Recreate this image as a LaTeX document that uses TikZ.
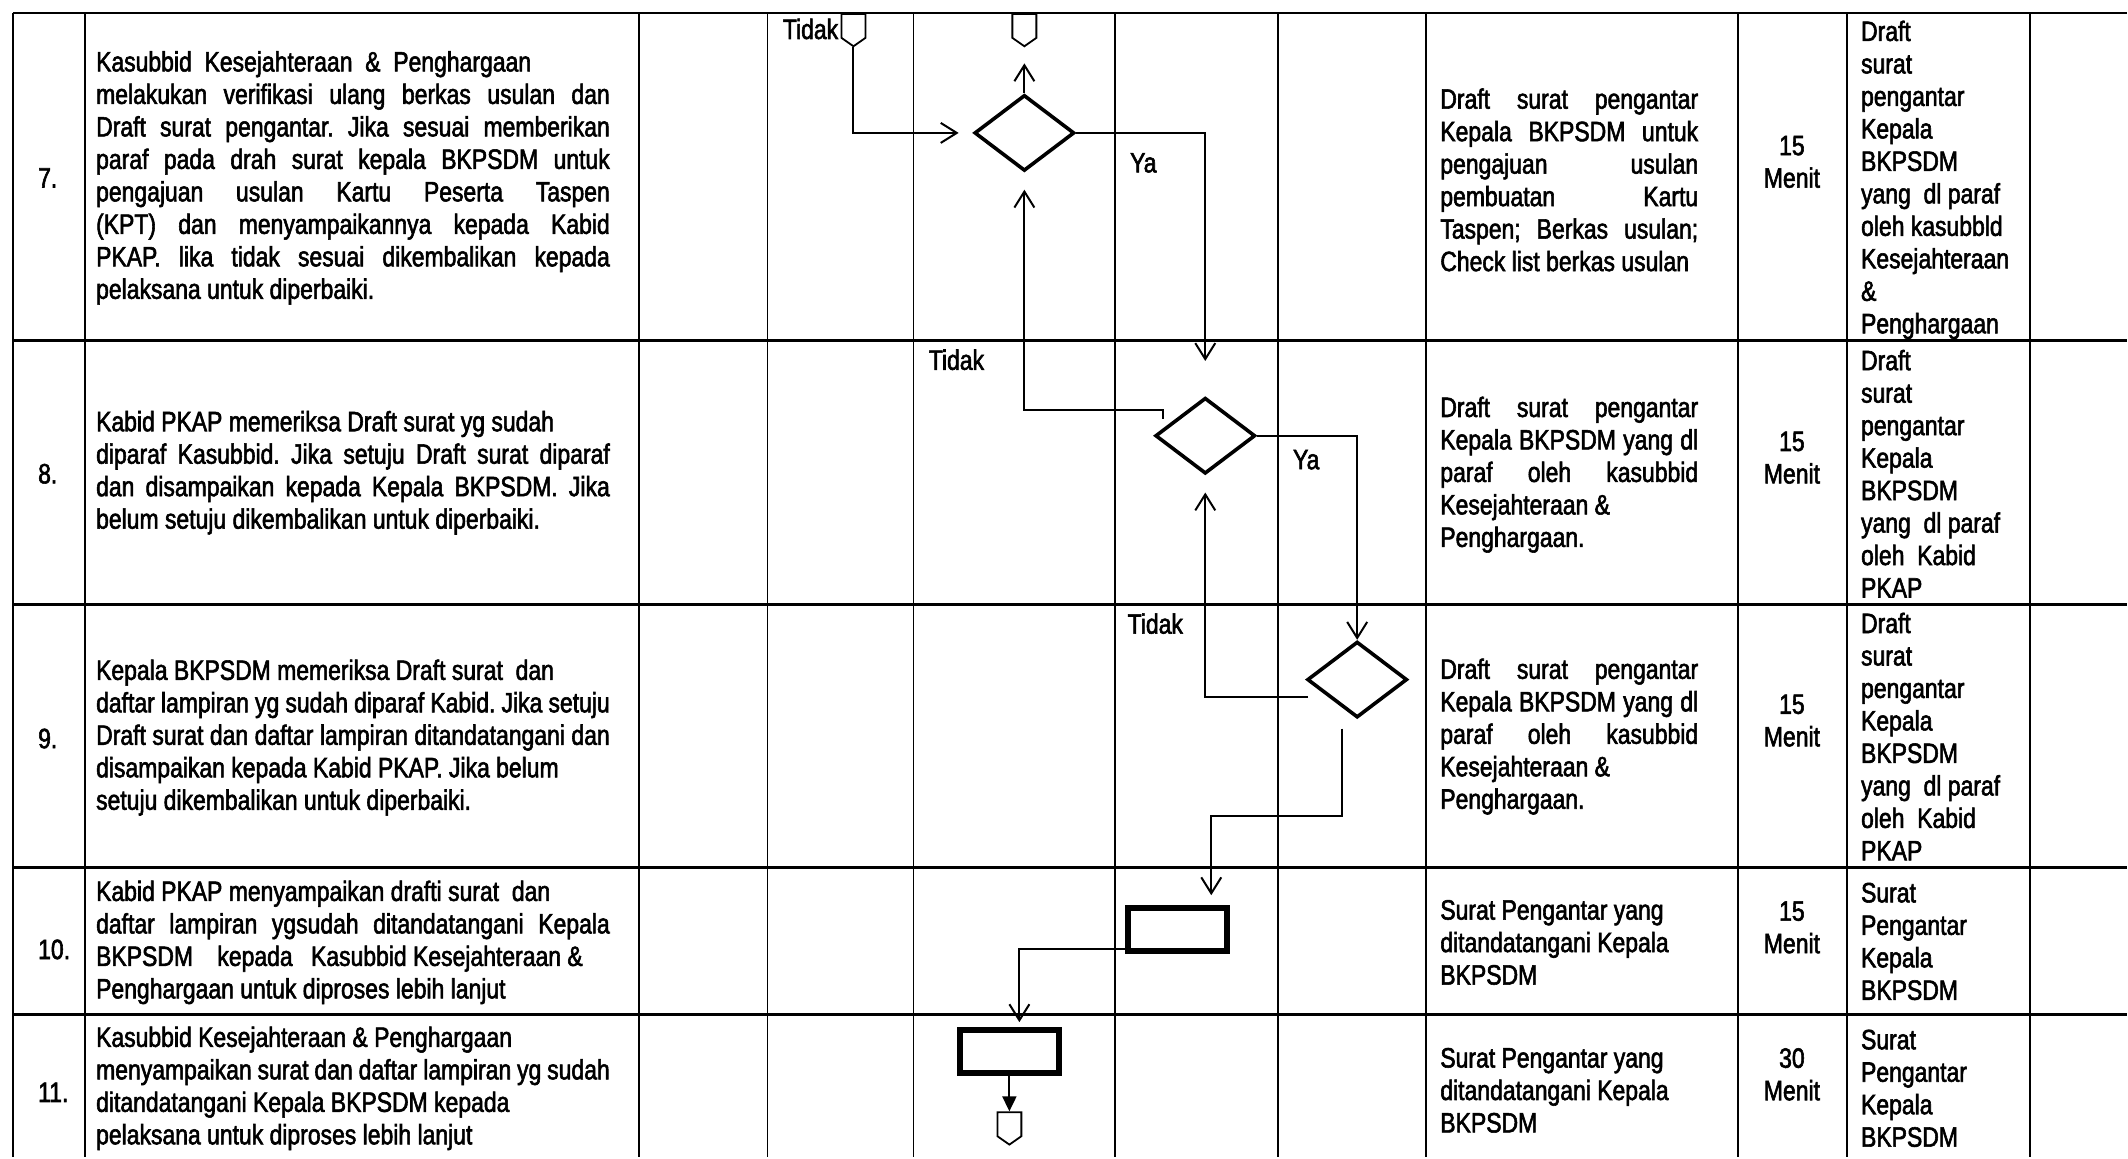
\documentclass[tikz,border=0pt]{standalone}
\usepackage{fontspec}
\setmainfont{Liberation Sans}[FakeStretch=0.82, FakeBold=2]
\usepackage{tikz}
\usetikzlibrary{shapes.geometric, shapes.symbols, arrows.meta, positioning}

\newcommand{\sopfont}{\fontsize{28pt}{32.5pt}\selectfont\frenchspacing}

\begin{document}
\begin{tikzpicture}[
  x=1pt, y=-1pt,
  rowline/.style={line width=2.6pt},
  colline/.style={line width=1.9pt},
  num/.style={anchor=west, inner sep=0pt, font=\sopfont},
  desc/.style={anchor=west, inner sep=0pt, text width=514pt, align=justify, font=\sopfont},
  outp/.style={anchor=west, inner sep=0pt, text width=258pt, align=justify, font=\sopfont},
  mutu/.style={inner sep=0pt, align=center, font=\sopfont},
  ket/.style={anchor=west, inner sep=0pt, align=left, font=\sopfont},
  lbl/.style={inner sep=0pt, font=\sopfont},
  decision/.style={diamond, draw, line width=3.6pt, inner sep=0pt, minimum width=100pt, minimum height=76pt},
  process/.style={rectangle, draw, line width=5.5pt, inner sep=0pt, minimum width=99pt, minimum height=43pt},
  offpage/.style={signal, signal to=south, signal pointer angle=110, draw, line width=1.8pt, inner sep=0pt, minimum width=24pt, minimum height=24pt},
  arrow/.style={-{Straight Barb[length=16pt, width=20pt]}, line width=2pt}
]
\fill[white] (0,0) rectangle (2128,1158);
\foreach \y in {13,341,605,868,1015}
  \draw[rowline] (13,\y) -- (2128,\y);
\foreach \x in {13,85,639,768,914,1116,1279,1427,1739,1848,2031}
  \draw[colline] (\x,13) -- (\x,1158);

\node[num] (n7) at (38,178) {7.};
\node[num] (n8) at (38,474) {8.};
\node[num] (n9) at (38,739) {9.};
\node[num] (n10) at (38,950) {10.};
\node[num] (n11) at (38,1093) {11.};

\node[desc] (k7) at (96,178) {Kasubbid~ Kesejahteraan~ \&~ Penghargaan\newline
melakukan verifikasi ulang berkas usulan dan\linebreak
Draft surat pengantar. Jika sesuai memberikan\linebreak
paraf pada drah surat kepala BKPSDM untuk\linebreak
pengajuan usulan Kartu Peserta Taspen\linebreak
(KPT) dan menyampaikannya kepada Kabid\linebreak
PKAP. lika tidak sesuai dikembalikan kepada\linebreak
pelaksana untuk diperbaiki.};
\node[desc] (k8) at (96,473) {Kabid PKAP memeriksa Draft surat yg sudah\newline
diparaf Kasubbid. Jika setuju Draft surat diparaf\linebreak
dan disampaikan kepada Kepala BKPSDM. Jika\linebreak
belum setuju dikembalikan untuk diperbaiki.};
\node[desc] (k9) at (96,738) {Kepala BKPSDM memeriksa Draft surat~ dan\newline
daftar lampiran yg sudah diparaf Kabid. Jika setuju\linebreak
Draft surat dan daftar lampiran ditandatangani dan\linebreak
disampaikan kepada Kabid PKAP. Jika belum\newline
setuju dikembalikan untuk diperbaiki.};
\node[desc] (k10) at (96,943) {Kabid PKAP menyampaikan drafti surat~ dan\newline
daftar lampiran ygsudah ditandatangani Kepala\linebreak
BKPSDM\hspace{18pt} kepada\hspace{12pt} Kasubbid Kesejahteraan \&\newline
Penghargaan untuk diproses lebih lanjut};
\node[desc] (k11) at (96,1089) {Kasubbid Kesejahteraan \& Penghargaan\newline
menyampaikan surat dan daftar lampiran yg sudah\linebreak
ditandatangani Kepala BKPSDM kepada\newline
pelaksana untuk diproses lebih lanjut};

\node[outp] (o7) at (1441,180) {Draft surat pengantar\linebreak
Kepala BKPSDM untuk\linebreak
pengajuan usulan\linebreak
pembuatan Kartu\linebreak
Taspen; Berkas usulan;\linebreak
Check list berkas usulan};
\node[outp] (o8) at (1441,475) {Draft surat pengantar\linebreak
Kepala BKPSDM yang dl\linebreak
paraf oleh kasubbid\linebreak
Kesejahteraan \&\newline
Penghargaan.};
\node[outp] (o9) at (1441,737) {Draft surat pengantar\linebreak
Kepala BKPSDM yang dl\linebreak
paraf oleh kasubbid\linebreak
Kesejahteraan \&\newline
Penghargaan.};
\node[outp] (o10) at (1441,943) {Surat Pengantar yang\newline
ditandatangani Kepala\newline
BKPSDM};
\node[outp] (o11) at (1441,1091) {Surat Pengantar yang\newline
ditandatangani Kepala\newline
BKPSDM};

\node[mutu] (t7) at (1793,162) {15\\Menit};
\node[mutu] (t8) at (1793,458) {15\\Menit};
\node[mutu] (t9) at (1793,721) {15\\Menit};
\node[mutu] (t10) at (1793,928) {15\\Menit};
\node[mutu] (t11) at (1793,1075) {30\\Menit};

\node[ket] (h7) at (1862,180) {Draft\\surat\\pengantar\\Kepala\\BKPSDM\\yang~ dl paraf\\oleh kasubbld\\Kesejahteraan\\\&\\Penghargaan};
\node[ket] (h8) at (1862,474) {Draft\\surat\\pengantar\\Kepala\\BKPSDM\\yang~ dl paraf\\oleh~ Kabid\\PKAP};
\node[ket] (h9) at (1862,737) {Draft\\surat\\pengantar\\Kepala\\BKPSDM\\yang~ dl paraf\\oleh~ Kabid\\PKAP};
\node[ket] (h10) at (1862,942) {Surat\\Pengantar\\Kepala\\BKPSDM};
\node[ket] (h11) at (1862,1089) {Surat\\Pengantar\\Kepala\\BKPSDM};

\node[offpage, anchor=north] (c1) at (854,13) {};
\node[offpage, anchor=north] (c2) at (1025,13) {};
\node[decision] (q1) at (1025,133) {};
\node[decision] (q2) at (1206,436) {};
\node[decision] (q3) at (1358,680) {};
\node[process] (p1) at (1178,930) {};
\node[process] (p2) at (1010,1052) {};
\node[offpage, anchor=north] (c3) at (1010,1112) {};

\node[lbl] (tidak1) at (811,29) {Tidak};
\node[lbl] (ya1) at (1144,163) {Ya};
\node[lbl] (tidak2) at (957,360) {Tidak};
\node[lbl] (ya2) at (1307,460) {Ya};
\node[lbl] (tidak3) at (1156,624) {Tidak};

\coordinate (no2) at (1164,419);
\coordinate (no3) at (1309,697);
\coordinate (yes3) at (1343,729);

\draw[arrow, shorten >=14pt] (c1.south) |- (q1.west);
\draw[arrow, shorten >=16pt] (q1.north) -- (c2.south);
\draw[arrow, shorten >=35pt] (q1.east) -| (q2.north);
\draw[arrow, shorten >=17pt] (no2) -- ++(0,-9) -| (q1.south);
\draw[arrow] (q2.east) -| (q3.north);
\draw[arrow, shorten >=17pt] (no3) -| (q2.south);
\draw[arrow, shorten >=10pt] (yes3) -- ++(0,87) -| ([xshift=34pt]p1.north);
\draw[arrow, shorten >=5pt] ([yshift=-20pt]p1.west) -| ([xshift=10pt]p2.north);
\draw[-{Triangle[length=15pt, width=14pt]}, line width=2pt] (p2.south) -- (c3.north);
\end{tikzpicture}
\end{document}
